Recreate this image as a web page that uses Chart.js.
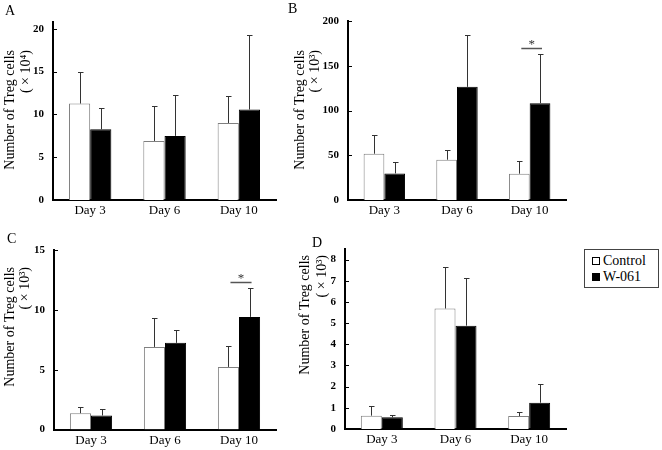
<!DOCTYPE html>
<html>
<head>
<meta charset="utf-8">
<script src="https://cdn.jsdelivr.net/npm/chart.js@4.4.1/dist/chart.umd.min.js"></script>
<style>
  html, body { margin: 0; padding: 0; background: #fff; }
  body { width: 662px; height: 450px; position: relative; overflow: hidden;
         font-family: "Liberation Serif", "Times New Roman", serif; }
  .panel { position: absolute; }
  #legend { position: absolute; left: 584px; top: 249px; width: 75px; height: 39px;
            border: 1px solid #444; box-sizing: border-box; color: #000;
            font: 14px "Liberation Serif", "Times New Roman", serif; }
  #legend .row { position: absolute; left: 0; height: 16px; line-height: 16px; white-space: nowrap; }
  #legend .sw { position: absolute; left: 7px; top: 4px; width: 8px; height: 8px;
                border: 1px solid #000; box-sizing: border-box; }
  #legend .txt { position: absolute; left: 18px; top: 0; }
</style>
</head>
<body>
<canvas id="chartA" class="panel"></canvas>
<canvas id="chartB" class="panel"></canvas>
<canvas id="chartC" class="panel"></canvas>
<canvas id="chartD" class="panel"></canvas>
<div id="legend">
  <div class="row" style="top:3px"><span class="sw" style="background:#fff"></span><span class="txt">Control</span></div>
  <div class="row" style="top:19px"><span class="sw" style="background:#000"></span><span class="txt">W-061</span></div>
</div>
<script>
/* ---------- datos ---------- */
const days = ['Day 3', 'Day 6', 'Day 10'];

// A: x10^4
const aControl    = [11.27, 6.9, 9.0];
const aControlErr = [3.73, 4.05, 3.16];
const aW061       = [8.26, 7.49, 10.57];
const aW061Err    = [2.5, 4.79, 8.73];
const aTicks      = [0, 5, 10, 15, 20];

// B: x10^3
const bControl    = [51.7, 45, 29.4];
const bControlErr = [21.2, 11.1, 13.7];
const bW061       = [29.7, 126.4, 108.2];
const bW061Err    = [13.1, 58.0, 55.0];
const bTicks      = [0, 50, 100, 150, 200];

// C: x10^3
const cControl    = [1.36, 6.9, 5.23];
const cControlErr = [0.53, 2.4, 1.78];
const cW061       = [1.17, 7.24, 9.41];
const cW061Err    = [0.56, 1.11, 2.42];
const cTicks      = [0, 5, 10, 15];

// D: x10^3
const dControl    = [0.63, 5.69, 0.61];
const dControlErr = [0.44, 1.96, 0.18];
const dW061       = [0.55, 4.88, 1.24];
const dW061Err    = [0.13, 2.27, 0.9];
const dTicks      = [0, 1, 2, 3, 4, 5, 6, 7, 8];

// significance markers (day, level on y scale)
const bSig = ['Day 10', 170];
const cSig = ['Day 10', 12.3];

const FONT = '"Liberation Serif", "Times New Roman", serif';

/* ---------- plugin: error bars, ticks, títulos ---------- */
const extras = {
  id: 'extras',
  afterDatasetsDraw(chart, args, opts) {
    const ctx = chart.ctx;
    const y = chart.scales.y;
    const area = chart.chartArea;
    ctx.save();

    // error bars (solo hacia arriba)
    ctx.strokeStyle = '#333';
    ctx.lineWidth = 1;
    chart.data.datasets.forEach((ds, i) => {
      chart.getDatasetMeta(i).data.forEach((bar, j) => {
        const top = Math.round(y.getPixelForValue(ds.data[j] + ds.err[j])) + 0.5;
        const x = Math.round(bar.x) + 0.5;
        ctx.beginPath();
        ctx.moveTo(x, bar.y);
        ctx.lineTo(x, top);
        ctx.moveTo(x - 2.5, top);
        ctx.lineTo(x + 3, top);
        ctx.stroke();
      });
    });

    // marcas del eje y hacia dentro
    ctx.strokeStyle = '#000';
    y.ticks.forEach(t => {
      const py = Math.round(y.getPixelForValue(t.value)) + 0.5;
      ctx.beginPath();
      ctx.moveTo(area.left, py);
      ctx.lineTo(area.left + 4, py);
      ctx.stroke();
    });

    // significancia
    if (opts.sig) {
      const idx = chart.data.labels.indexOf(opts.sig[0]);
      const x0 = chart.getDatasetMeta(0).data[idx].x + 2;
      const x1 = chart.getDatasetMeta(1).data[idx].x + 2;
      const py = Math.round(y.getPixelForValue(opts.sig[1])) + 0.5;
      ctx.strokeStyle = '#555';
      ctx.lineWidth = 1.5;
      ctx.beginPath();
      ctx.moveTo(x0, py);
      ctx.lineTo(x1, py);
      ctx.stroke();
      ctx.fillStyle = '#333';
      ctx.font = '13px ' + FONT;
      ctx.textAlign = 'center';
      ctx.textBaseline = 'alphabetic';
      ctx.fillText('*', (x0 + x1) / 2, py - 1);
    }

    // título del eje y (dos líneas, rotado)
    ctx.fillStyle = '#000';
    ctx.font = '14px ' + FONT;
    ctx.textAlign = 'right';
    ctx.textBaseline = 'middle';
    opts.title.forEach(line => {
      ctx.save();
      ctx.translate(line.x, line.yEnd);
      ctx.rotate(-Math.PI / 2);
      ctx.fillText(line.text, 0, 0);
      ctx.restore();
    });

    // letra del panel
    ctx.font = '14px ' + FONT;
    ctx.textAlign = 'left';
    ctx.textBaseline = 'alphabetic';
    ctx.fillText(opts.letter.text, opts.letter.x, opts.letter.y);

    ctx.restore();
  }
};

/* ---------- construir un panel ---------- */
function crearPanel(p) {
  const canvas = document.getElementById(p.id);
  canvas.width = p.box.w;
  canvas.height = p.box.h;
  canvas.style.left = p.box.x + 'px';
  canvas.style.top = p.box.y + 'px';

  const yWidth = p.area.l - p.box.x;
  const xHeight = p.box.y + p.box.h - p.area.b;
  const ox = p.box.x, oy = p.box.y;

  return new Chart(canvas.getContext('2d'), {
    type: 'bar',
    data: {
      labels: days,
      datasets: [
        { label: 'Control', data: p.ctrl, err: p.ctrlErr, backgroundColor: '#fff',
          borderColor: '#808080', borderWidth: 1, categoryPercentage: 0.57, barPercentage: 1 },
        { label: 'W-061', data: p.w061, err: p.w061Err, backgroundColor: '#000',
          borderColor: '#000', borderWidth: 1, categoryPercentage: 0.57, barPercentage: 1 },
      ],
    },
    options: {
      responsive: false,
      animation: false,
      events: [],
      layout: { padding: { left: 0, top: p.area.t - oy, right: ox + p.box.w - p.area.r, bottom: 0 } },
      plugins: {
        legend: { display: false },
        tooltip: { enabled: false },
        extras: {
          sig: p.sig,
          title: p.title.map(l => ({ text: l.text, x: l.x - ox, yEnd: l.yEnd - oy })),
          letter: { text: p.letter.text, x: p.letter.x - ox, y: p.letter.y - oy },
        },
      },
      scales: {
        x: {
          z: 1,
          offset: true,
          grid: { display: false, drawTicks: false },
          border: { display: true, color: '#000', width: 2 },
          ticks: { color: '#000', font: { family: FONT, size: 13 }, padding: 3,
                   maxRotation: 0, autoSkip: false },
          afterFit(s) { s.height = xHeight; },
        },
        y: {
          z: 1,
          min: 0,
          max: p.yMax,
          grid: { display: false, drawTicks: false },
          border: { display: true, color: '#000', width: 2 },
          ticks: { color: '#000', font: { family: FONT, size: 11, weight: 'bold' }, padding: 9 },
          afterBuildTicks(s) { s.ticks = p.yTicks.map(v => ({ value: v })); },
          afterFit(s) { s.width = yWidth; },
        },
      },
    },
    plugins: [extras],
  });
}

/* ---------- init ---------- */
crearPanel({
  id: 'chartA', box: { x: 0, y: 0, w: 290, h: 225 }, area: { l: 53, t: 22, r: 276, b: 200 },
  ctrl: aControl, ctrlErr: aControlErr, w061: aW061, w061Err: aW061Err,
  yMax: 20.8, yTicks: aTicks,
  title: [{ text: 'Number of Treg cells', x: 10, yEnd: 50 }, { text: '( × 10⁴)', x: 26, yEnd: 50 }],
  letter: { text: 'A', x: 5, y: 15 },
});
crearPanel({
  id: 'chartB', box: { x: 280, y: 0, w: 300, h: 225 }, area: { l: 348, t: 21, r: 566, b: 200 },
  ctrl: bControl, ctrlErr: bControlErr, w061: bW061, w061Err: bW061Err,
  yMax: 200, yTicks: bTicks, sig: bSig,
  title: [{ text: 'Number of Treg cells', x: 300, yEnd: 50 }, { text: '( × 10³)', x: 315, yEnd: 50 }],
  letter: { text: 'B', x: 288, y: 13 },
});
crearPanel({
  id: 'chartC', box: { x: 0, y: 225, w: 290, h: 225 }, area: { l: 54, t: 250, r: 276, b: 429.5 },
  ctrl: cControl, ctrlErr: cControlErr, w061: cW061, w061Err: cW061Err,
  yMax: 15, yTicks: cTicks, sig: cSig,
  title: [{ text: 'Number of Treg cells', x: 10, yEnd: 267 }, { text: '( × 10³)', x: 25, yEnd: 267 }],
  letter: { text: 'C', x: 7, y: 243 },
});
crearPanel({
  id: 'chartD', box: { x: 280, y: 225, w: 300, h: 225 }, area: { l: 345, t: 249, r: 566, b: 429 },
  ctrl: dControl, ctrlErr: dControlErr, w061: dW061, w061Err: dW061Err,
  yMax: 8.5, yTicks: dTicks,
  title: [{ text: 'Number of Treg cells', x: 305, yEnd: 255 }, { text: '( × 10³)', x: 322, yEnd: 255 }],
  letter: { text: 'D', x: 312, y: 247 },
});
</script>
</body>
</html>
